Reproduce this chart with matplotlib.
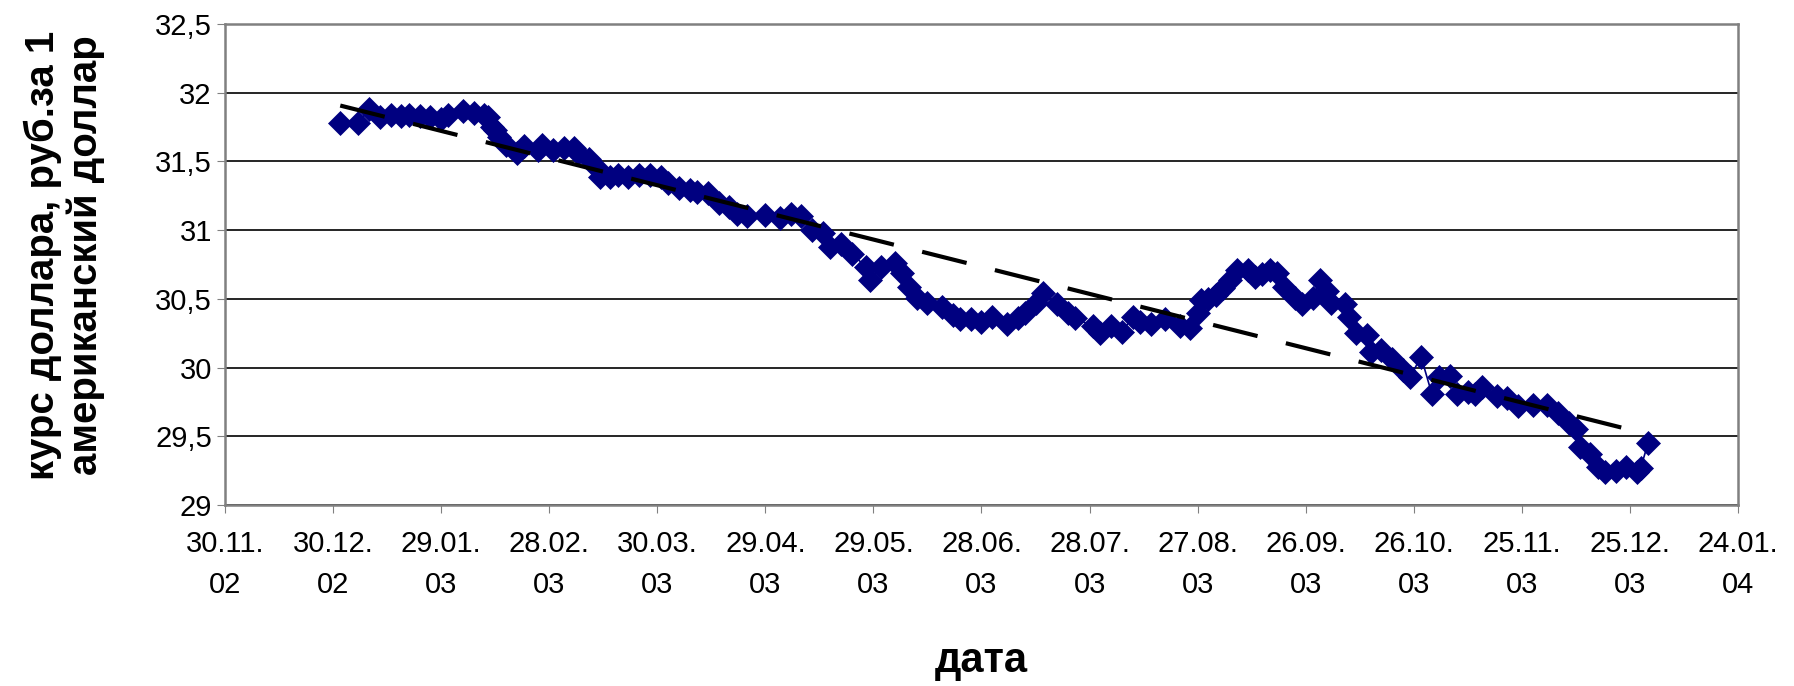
import numpy as np
import pandas as pd
import matplotlib
matplotlib.use("Agg")
import matplotlib.pyplot as plt
import matplotlib.dates as mdates
from matplotlib.ticker import FuncFormatter

plt.rcParams['font.family'] = ['Liberation Sans', 'DejaVu Sans']

# USD/RUB rate, 2003
dates = ['01.01', '06.01', '09.01', '12.01', '15.01', '18.01', '20.01', '23.01', '26.01', '29.01', '31.01',
         '04.02', '07.02', '10.02', '11.02', '12.02', '13.02', '14.02', '16.02', '19.02', '21.02', '25.02', '26.02',
         '01.03', '04.03', '07.03', '08.03', '11.03', '13.03', '14.03', '17.03', '19.03', '22.03', '25.03', '28.03', '31.03',
         '02.04', '05.04', '08.04', '10.04', '13.04', '16.04', '19.04', '21.04', '24.04', '29.04',
         '03.05', '06.05', '09.05', '12.05', '15.05', '17.05', '20.05', '23.05', '27.05', '28.05', '31.05',
         '04.06', '06.06', '08.06', '10.06', '13.06', '17.06', '20.06', '22.06', '25.06', '28.06',
         '01.07', '05.07', '08.07', '10.07', '13.07', '15.07', '19.07', '22.07', '24.07', '29.07', '31.07',
         '03.08', '06.08', '09.08', '11.08', '14.08', '18.08', '22.08', '25.08', '27.08', '28.08', '30.08',
         '01.09', '03.09', '05.09', '07.09', '10.09', '12.09', '14.09', '16.09', '18.09', '20.09', '23.09', '25.09', '28.09', '30.09',
         '02.10', '03.10', '07.10', '08.10', '10.10', '13.10', '14.10', '17.10', '20.10', '23.10', '25.10', '28.10', '31.10',
         '02.11', '05.11', '07.11', '10.11', '12.11', '14.11', '18.11', '21.11', '24.11', '28.11',
         '02.12', '05.12', '08.12', '10.12', '11.12', '14.12', '16.12', '18.12', '21.12', '24.12', '27.12', '28.12', '30.12']
rate = [31.78, 31.78, 31.88, 31.82, 31.84, 31.83, 31.84, 31.83, 31.82, 31.81, 31.84,
        31.87, 31.85, 31.84, 31.82, 31.75, 31.73, 31.68, 31.62, 31.56, 31.61, 31.58, 31.62,
        31.58, 31.60, 31.60, 31.56, 31.52, 31.46, 31.39, 31.39, 31.40, 31.39, 31.40, 31.40, 31.39,
        31.34, 31.31, 31.29, 31.28, 31.27, 31.20, 31.17, 31.12, 31.10, 31.11,
        31.09, 31.12, 31.10, 31.00, 30.98, 30.88, 30.90, 30.83, 30.73, 30.64, 30.73,
        30.76, 30.69, 30.59, 30.51, 30.47, 30.44, 30.38, 30.35, 30.35, 30.33,
        30.37, 30.32, 30.36, 30.40, 30.47, 30.54, 30.46, 30.40, 30.36, 30.30, 30.25,
        30.30, 30.26, 30.37, 30.33, 30.32, 30.35, 30.30, 30.29, 30.40, 30.49, 30.50,
        30.53, 30.58, 30.64, 30.71, 30.71, 30.66, 30.68, 30.71, 30.69, 30.59, 30.51, 30.46, 30.51, 30.64,
        30.56, 30.47, 30.46, 30.37, 30.25, 30.24, 30.11, 30.13, 30.06, 29.98, 29.93, 30.08, 29.81,
        29.93, 29.94, 29.81, 29.82, 29.81, 29.86, 29.79, 29.78, 29.72, 29.73,
        29.73, 29.67, 29.60, 29.55, 29.42, 29.37, 29.28, 29.24, 29.25, 29.28, 29.24, 29.27, 29.45]

x_start = '2002-11-30'
x_end = '2004-01-24'

x = pd.to_datetime([d + '.2003' for d in dates], format='%d.%m.%Y')
xn = mdates.date2num(x)
y = np.array(rate)

fig = plt.figure(figsize=(17.94, 6.86), dpi=100)
ax = fig.add_axes([0.1254, 0.2638, 0.8434, 0.7012])

navy = '#000080'
ax.plot(xn, y, color=navy, lw=1.2, marker='D', ms=12, mfc=navy, mec=navy, mew=0.5, zorder=3)

# linear trend line
k, b = np.polyfit(xn, y, 1)
xt = np.array([xn[0], xn[-1]])
ax.plot(xt, k * xt + b, color='black', lw=3, linestyle=(0, (11, 7)), zorder=4)

ticks = pd.date_range(x_start, x_end, freq='30D')
ax.set_xlim(mdates.date2num(pd.Timestamp(x_start)), mdates.date2num(pd.Timestamp(x_end)))
ax.set_xticks(mdates.date2num(ticks))
ax.set_xticklabels([t.strftime('%d.%m.\n%y') for t in ticks], fontsize=21, linespacing=1.6)

ax.set_ylim(29, 32.5)
ax.set_yticks(np.arange(29, 32.51, 0.5))
ax.yaxis.set_major_formatter(FuncFormatter(lambda v, p: ('%g' % v).replace('.', ',')))
ax.tick_params(axis='y', labelsize=21, direction='out', length=6, color='#808080')
ax.tick_params(axis='x', direction='out', length=6, color='#808080', pad=12)

ax.grid(axis='y', color='black', lw=1.2)
ax.set_axisbelow(True)
for s in ax.spines.values():
    s.set_color('#808080')
    s.set_linewidth(1.8)

ax.set_xlabel('дата', fontsize=30, fontweight='bold', labelpad=30)
ax.set_ylabel('курс доллара, руб.за 1\nамериканский доллар', fontsize=29,
              fontweight='bold', linespacing=1.15)
ax.yaxis.set_label_coords(-0.079, 0.52)

fig.savefig('out.png', dpi=100)
